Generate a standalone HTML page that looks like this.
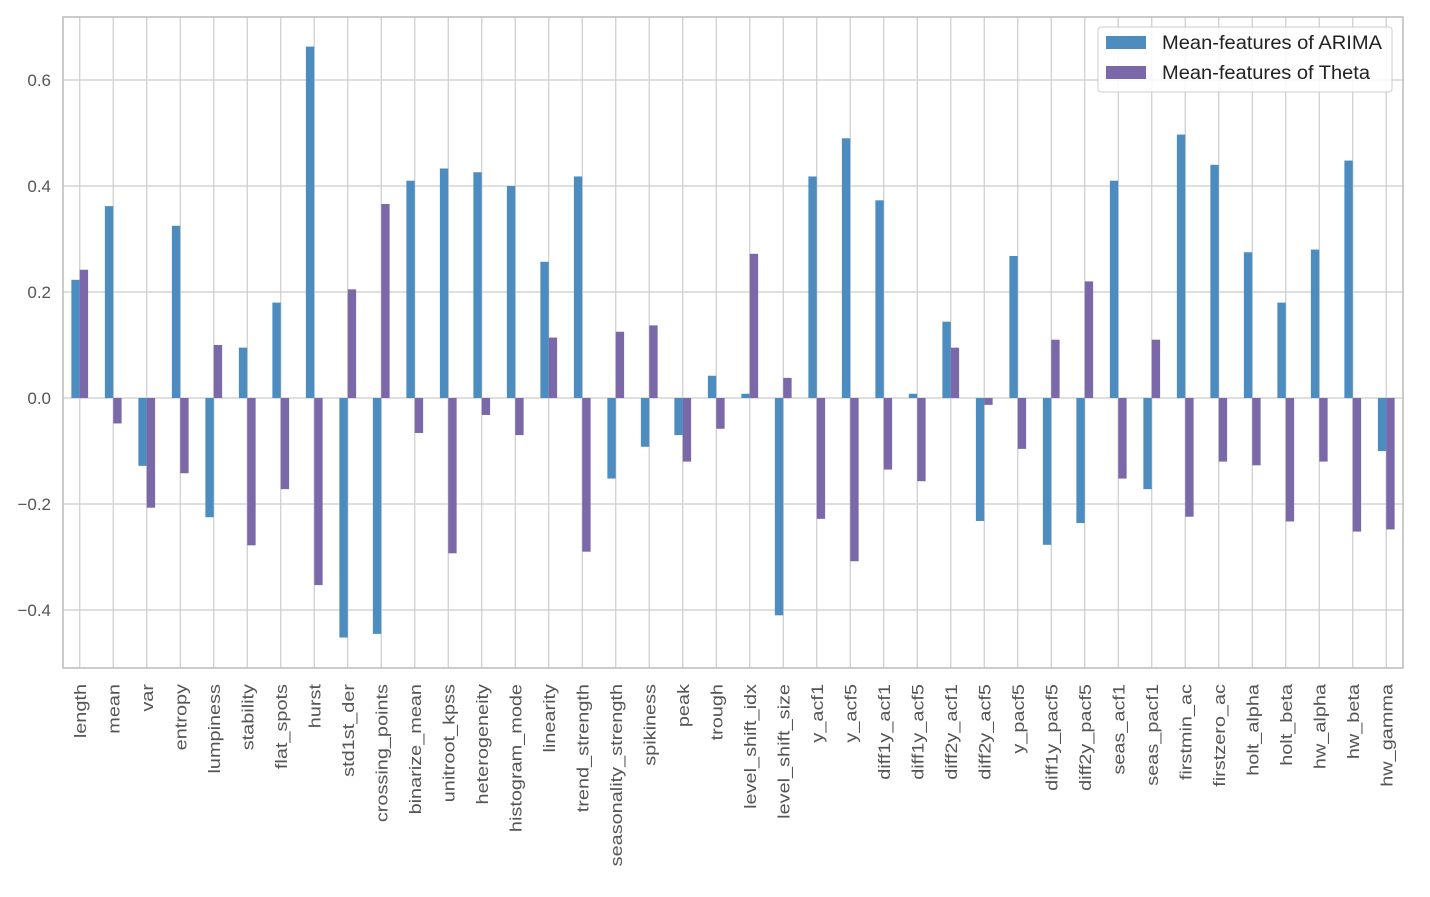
<!DOCTYPE html>
<html><head><meta charset="utf-8"><style>
html,body{margin:0;padding:0;background:#fff;}
svg text{font-family:"Liberation Sans",sans-serif;fill:#555;}
</style></head><body>
<svg id="chart" width="1430" height="892" xmlns="http://www.w3.org/2000/svg">
<rect x="0" y="0" width="1430" height="892" fill="#fff"/>
<g id="grid"></g><g id="bars"></g><g id="axes"></g>
<g id="legend">
<rect x="1098" y="27" width="294" height="65" fill="#fff" fill-opacity="0.85" stroke="#ccc" rx="3"/>
<rect x="1106" y="36" width="40" height="13" fill="#4c8cbf"/>
<text x="1162" y="49" font-size="19" textLength="220" lengthAdjust="spacingAndGlyphs" style="fill:#222">Mean-features of ARIMA</text>
<rect x="1106" y="66" width="40" height="13" fill="#7b68a8"/>
<text x="1162" y="79" font-size="19" textLength="208" lengthAdjust="spacingAndGlyphs" style="fill:#222">Mean-features of Theta</text>
</g>
</svg>
<script>
const categories=["length","mean","var","entropy","lumpiness","stability","flat_spots","hurst","std1st_der","crossing_points","binarize_mean","unitroot_kpss","heterogeneity","histogram_mode","linearity","trend_strength","seasonality_strength","spikiness","peak","trough","level_shift_idx","level_shift_size","y_acf1","y_acf5","diff1y_acf1","diff1y_acf5","diff2y_acf1","diff2y_acf5","y_pacf5","diff1y_pacf5","diff2y_pacf5","seas_acf1","seas_pacf1","firstmin_ac","firstzero_ac","holt_alpha","holt_beta","hw_alpha","hw_beta","hw_gamma"];
const arimaValues=[0.223,0.362,-0.128,0.325,-0.225,0.095,0.18,0.663,-0.452,-0.445,0.41,0.433,0.426,0.4,0.257,0.418,-0.152,-0.092,-0.07,0.042,0.008,-0.41,0.418,0.49,0.373,0.008,0.144,-0.232,0.268,-0.277,-0.236,0.41,-0.172,0.497,0.44,0.275,0.18,0.28,0.448,-0.1];
const thetaValues=[0.242,-0.048,-0.207,-0.142,0.1,-0.278,-0.172,-0.353,0.205,0.366,-0.066,-0.293,-0.032,-0.07,0.114,-0.29,0.125,0.137,-0.12,-0.058,0.272,0.038,-0.228,-0.308,-0.135,-0.157,0.095,-0.013,-0.096,0.11,0.22,-0.152,0.11,-0.224,-0.12,-0.127,-0.233,-0.12,-0.252,-0.248];
const yTicks=[-0.4,-0.2,0.0,0.2,0.4,0.6];
const L=63,R=1403,T=17,B=668,Y0=398,K=530;
const n=categories.length, step=(R-L)/n;
const xc=i=>L+step*(i+0.5);
const y=v=>Y0-v*K;
const NS="http://www.w3.org/2000/svg";
function mk(tag,attrs,parent){const e=document.createElementNS(NS,tag);for(const k in attrs)e.setAttribute(k,attrs[k]);parent.appendChild(e);return e;}
const grid=document.getElementById('grid'),bars=document.getElementById('bars'),axes=document.getElementById('axes');
yTicks.forEach(t=>{
  const g=mk('line',{x1:L,x2:R,y1:y(t),y2:y(t),stroke:'#ccc','stroke-width':1.2},grid);
  
  
  const tx=mk('text',{x:L-12,y:y(t)+6,'text-anchor':'end','font-size':17},axes);
  tx.textContent=(t<0?'−':'')+Math.abs(t).toFixed(1);
  
  
});
categories.forEach((c,i)=>{
  const g=mk('line',{x1:xc(i),x2:xc(i),y1:T,y2:B,stroke:'#ccc','stroke-width':1.2},grid);
  
  
  const bw=step*0.25;
  [[arimaValues[i],'#4c8cbf',-bw,'bar-arima'],[thetaValues[i],'#7b68a8',0,'bar-theta']].forEach(([v,col,off,nm])=>{
    const r=mk('rect',{x:xc(i)+off,y:Math.min(y(v),y(0)),width:bw,height:Math.abs(y(v)-y(0)),fill:col},bars);
    
    
  });
  const tx=mk('text',{transform:`translate(${xc(i)+6},${B+16}) rotate(-90) scale(1.17,0.95)`,'text-anchor':'end','font-size':17},axes);
  tx.textContent=c;
  
  
});
const fr=mk('rect',{x:L,y:T,width:R-L,height:B-T,fill:'none',stroke:'#bbb','stroke-width':1.5},axes);


</script>
</body></html>
